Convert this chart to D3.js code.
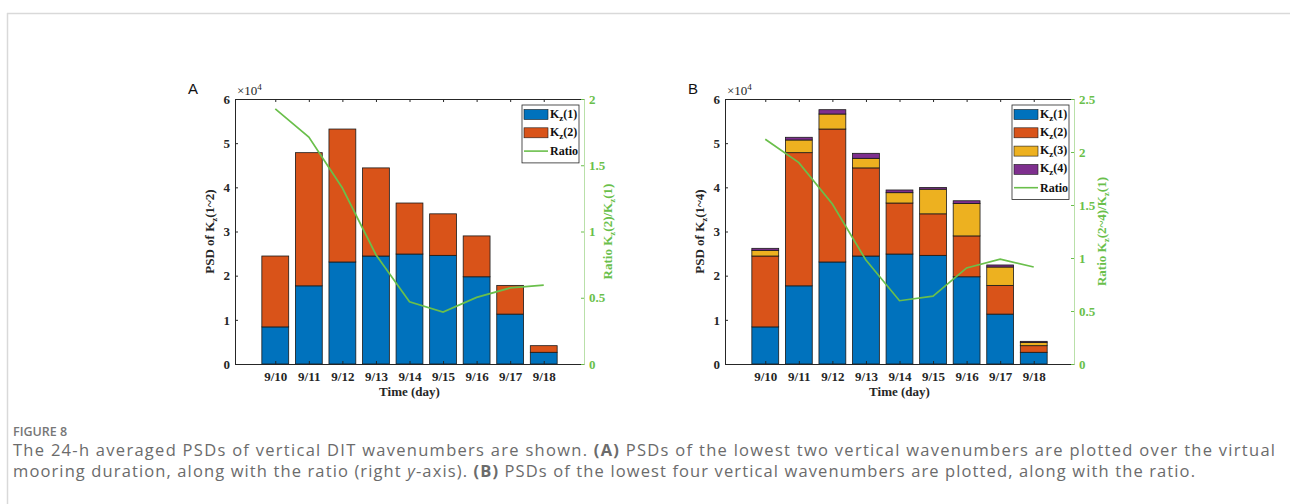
<!DOCTYPE html>
<html>
<head>
<meta charset="utf-8">
<script src="https://cdn.jsdelivr.net/npm/d3@7"></script>
<style>
  body { margin: 0; background: #fff; }
  svg { display: block; }
</style>
</head>
<body>
<svg id="chart" width="1290" height="504"></svg>
<script>
// days on the x axis
var days = ["9/10", "9/11", "9/12", "9/13", "9/14", "9/15", "9/16", "9/17", "9/18"];

// PSD of each vertical wavenumber (same units as left axis)
var kz1 = [8400, 17700, 23100, 24450, 24900, 24600, 19750, 11300, 2650];
var kz2 = [16050, 30150, 30100, 19950, 11550, 9400, 9250, 6500, 1500];
var kz3 = [1290, 2870, 3400, 2170, 2340, 5580, 7350, 4160, 750];
var kz4 = [450, 610, 980, 1130, 610, 380, 610, 460, 230];

// ratios
var ratioA = [1.925, 1.713, 1.328, 0.825, 0.47, 0.392, 0.503, 0.574, 0.596];
var ratioB = [2.12, 1.90, 1.51, 0.98, 0.597, 0.64, 0.906, 0.99, 0.915];

var colors = ["#0072BD", "#D95319", "#EDB120", "#7E2F8E"];
var green = "#6abf4b";

var svg = d3.select("#chart");

// page frame
svg.append("line").attr("x1", 7).attr("x2", 1290).attr("y1", 13.5).attr("y2", 13.5)
  .attr("stroke", "#d9d9d9").attr("stroke-width", 1.5);
svg.append("line").attr("x1", 7.5).attr("x2", 7.5).attr("y1", 13).attr("y2", 504)
  .attr("stroke", "#d9d9d9").attr("stroke-width", 1.5);

function drawPanel(opts) {
  var left = opts.left, right = opts.right, top = 99, bottom = 364;
  var g = svg.append("g");
  var serif = "'Liberation Serif', 'Times New Roman', serif";
  var fs = 13;

  var x = d3.scaleLinear().domain([-1.2, 9.2]).range([left, right]);
  var y = d3.scaleLinear().domain([0, 60000]).range([bottom, top]);
  var yR = d3.scaleLinear().domain([0, opts.ratioMax]).range([bottom, top]);
  var bw = (x(1) - x(0)) * 0.8;

  // stacked bars
  var rows = days.map(function (d, i) {
    var o = { day: d, i: i };
    opts.series.forEach(function (s, k) { o["k" + k] = s[i]; });
    return o;
  });
  var keys = opts.series.map(function (s, k) { return "k" + k; });
  var stacked = d3.stack().keys(keys)(rows);

  g.selectAll(".layer")
    .data(stacked)
    .enter()
    .append("g")
    .attr("class", "layer")
    .style("fill", function (d, k) { return colors[k]; })
    .selectAll("rect")
    .data(function (d) { return d; })
    .enter()
    .append("rect")
    .attr("x", function (d) { return x(d.data.i) - bw / 2; })
    .attr("y", function (d) { return y(d[1]); })
    .attr("width", bw)
    .attr("height", function (d) { return y(d[0]) - y(d[1]); })
    .attr("stroke", "#1a1a1a")
    .attr("stroke-width", 0.8);

  // bottom axis with inward ticks
  var xAxis = d3.axisBottom(x)
    .tickValues(d3.range(days.length))
    .tickFormat(function (i) { return days[i]; })
    .tickSizeInner(-3).tickSizeOuter(0).tickPadding(8);
  var xa = g.append("g").attr("transform", "translate(0," + bottom + ")").call(xAxis);
  xa.select(".domain").attr("stroke", "#262626");
  xa.selectAll("line").attr("stroke", "#262626");
  xa.selectAll("text").attr("font-family", serif).attr("font-weight", "bold")
    .attr("font-size", fs).attr("fill", "#262626");

  // top axis (box)
  var xTop = d3.axisTop(x).tickValues(d3.range(days.length)).tickFormat("")
    .tickSizeInner(-3).tickSizeOuter(0);
  var xt = g.append("g").attr("transform", "translate(0," + top + ")").call(xTop);
  xt.select(".domain").attr("stroke", "#262626");
  xt.selectAll("line").attr("stroke", "#262626");

  // left axis
  var yAxis = d3.axisLeft(y).ticks(6).tickFormat(function (v) { return v / 10000; })
    .tickSizeInner(-3).tickSizeOuter(0).tickPadding(5);
  var ya = g.append("g").attr("transform", "translate(" + left + ",0)").call(yAxis);
  ya.select(".domain").attr("stroke", "#262626");
  ya.selectAll("line").attr("stroke", "#262626");
  ya.selectAll("text").attr("font-family", serif).attr("font-weight", "bold")
    .attr("font-size", fs).attr("fill", "#262626");

  // right axis (ratio)
  var yRAxis = d3.axisRight(yR).tickValues(d3.range(0, opts.ratioMax + 0.01, 0.5))
    .tickFormat(d3.format("~g"))
    .tickSizeInner(-3).tickSizeOuter(0).tickPadding(5);
  var yra = g.append("g").attr("transform", "translate(" + right + ",0)").call(yRAxis);
  yra.select(".domain").attr("stroke", "#b9e0a9");
  yra.selectAll("line").attr("stroke", green);
  yra.selectAll("text").attr("font-family", serif).attr("font-weight", "bold")
    .attr("font-size", fs).attr("fill", green);

  // ratio line
  var line = d3.line()
    .x(function (d, i) { return x(i); })
    .y(function (d) { return yR(d); });
  g.append("path").datum(opts.ratio)
    .attr("d", line)
    .attr("fill", "none")
    .attr("stroke", green)
    .attr("stroke-width", 1.7);

  // x10^4
  var ex = g.append("text").attr("x", left + 2).attr("y", top - 4)
    .attr("font-family", serif).attr("font-size", 13).attr("fill", "#262626");
  ex.append("tspan").text("\u00d710");
  ex.append("tspan").attr("dy", -5).attr("font-size", 9).text("4");

  // panel letter
  g.append("text").attr("x", opts.letterX).attr("y", 94)
    .attr("font-family", "'Liberation Sans', Arial, sans-serif")
    .attr("font-size", 15).attr("fill", "#111").text(opts.letter);

  // x label
  g.append("text").attr("x", (left + right) / 2).attr("y", 396)
    .attr("text-anchor", "middle").attr("font-family", serif).attr("font-weight", "bold")
    .attr("font-size", fs).attr("fill", "#262626").text("Time (day)");

  // y label
  var yl = g.append("text")
    .attr("transform", "translate(" + (left - 21) + "," + ((top + bottom) / 2) + ") rotate(-90)")
    .attr("text-anchor", "middle").attr("font-family", serif).attr("font-weight", "bold")
    .attr("font-size", fs).attr("fill", "#262626");
  yl.append("tspan").text("PSD of K");
  yl.append("tspan").attr("dy", 3).attr("font-size", 9).text("z");
  yl.append("tspan").attr("dy", -3).text(opts.yLabelTail);

  // right label
  var rl = g.append("text")
    .attr("transform", "translate(" + (right + opts.rLabelOffset) + "," + ((top + bottom) / 2) + ") rotate(-90)")
    .attr("text-anchor", "middle").attr("font-family", serif).attr("font-weight", "bold")
    .attr("font-size", fs).attr("fill", green);
  rl.append("tspan").text("Ratio K");
  rl.append("tspan").attr("dy", 3).attr("font-size", 9).text("z");
  rl.append("tspan").attr("dy", -3).text(opts.rLabelMid);
  rl.append("tspan").attr("dy", 3).attr("font-size", 9).text("z");
  rl.append("tspan").attr("dy", -3).text("(1)");

  // legend
  var n = opts.legendNames.length;
  var lx = right - 62, ly = 105, rowH = 18.3;
  var lg = g.append("g");
  lg.append("rect").attr("x", lx).attr("y", ly)
    .attr("width", 57).attr("height", rowH * (n + 1) + 3)
    .attr("fill", "#fff").attr("stroke", "#262626").attr("stroke-width", 0.8);
  opts.legendNames.forEach(function (nm, k) {
    var cy = ly + 9.5 + k * rowH;
    lg.append("rect").attr("x", lx + 2).attr("y", cy - 5).attr("width", 24).attr("height", 10)
      .attr("fill", colors[k]).attr("stroke", "#1a1a1a").attr("stroke-width", 0.6);
    var t = lg.append("text").attr("x", lx + 28).attr("y", cy + 3)
      .attr("font-family", serif).attr("font-weight", "bold").attr("font-size", 12).attr("fill", "#111");
    t.append("tspan").text("K");
    t.append("tspan").attr("dy", 3).attr("font-size", 9).text("z");
    t.append("tspan").attr("dy", -3).text(nm);
  });
  var ry = ly + 9.5 + n * rowH;
  lg.append("line").attr("x1", lx + 2).attr("x2", lx + 26).attr("y1", ry).attr("y2", ry)
    .attr("stroke", green).attr("stroke-width", 1.6);
  lg.append("text").attr("x", lx + 28).attr("y", ry + 4)
    .attr("font-family", serif).attr("font-weight", "bold").attr("font-size", 12).attr("fill", "#111")
    .text("Ratio");
}

drawPanel({
  left: 235, right: 584, letter: "A", letterX: 188,
  series: [kz1, kz2], ratio: ratioA, ratioMax: 2,
  yLabelTail: "(1~2)", rLabelMid: "(2)/K", rLabelOffset: 28,
  legendNames: ["(1)", "(2)"]
});

drawPanel({
  left: 725, right: 1074, letter: "B", letterX: 688,
  series: [kz1, kz2, kz3, kz4], ratio: ratioB, ratioMax: 2.5,
  yLabelTail: "(1~4)", rLabelMid: "(2~4)/K", rLabelOffset: 32,
  legendNames: ["(1)", "(2)", "(3)", "(4)"]
});

// caption
var cap = svg.append("g").attr("font-family", "'Open Sans', sans-serif").attr("fill", "#6b6b6b");
cap.append("text").attr("x", 13).attr("y", 436).attr("font-size", 12.5).attr("fill", "#777")
  .attr("font-weight", 600).text("FIGURE 8");
var l1 = cap.append("text").attr("x", 13).attr("y", 456).attr("font-size", 16.5)
  .attr("textLength", 1262).attr("lengthAdjust", "spacing");
l1.append("tspan").text("The 24-h averaged PSDs of vertical DIT wavenumbers are shown. ");
l1.append("tspan").attr("font-weight", "bold").text("(A)");
l1.append("tspan").text(" PSDs of the lowest two vertical wavenumbers are plotted over the virtual");
var l2 = cap.append("text").attr("x", 13).attr("y", 477).attr("font-size", 16.5)
  .attr("textLength", 1182).attr("lengthAdjust", "spacing");
l2.append("tspan").text("mooring duration, along with the ratio (right ");
l2.append("tspan").attr("font-style", "italic").text("y");
l2.append("tspan").text("-axis). ");
l2.append("tspan").attr("font-weight", "bold").text("(B)");
l2.append("tspan").text(" PSDs of the lowest four vertical wavenumbers are plotted, along with the ratio.");
</script>
</body>
</html>
